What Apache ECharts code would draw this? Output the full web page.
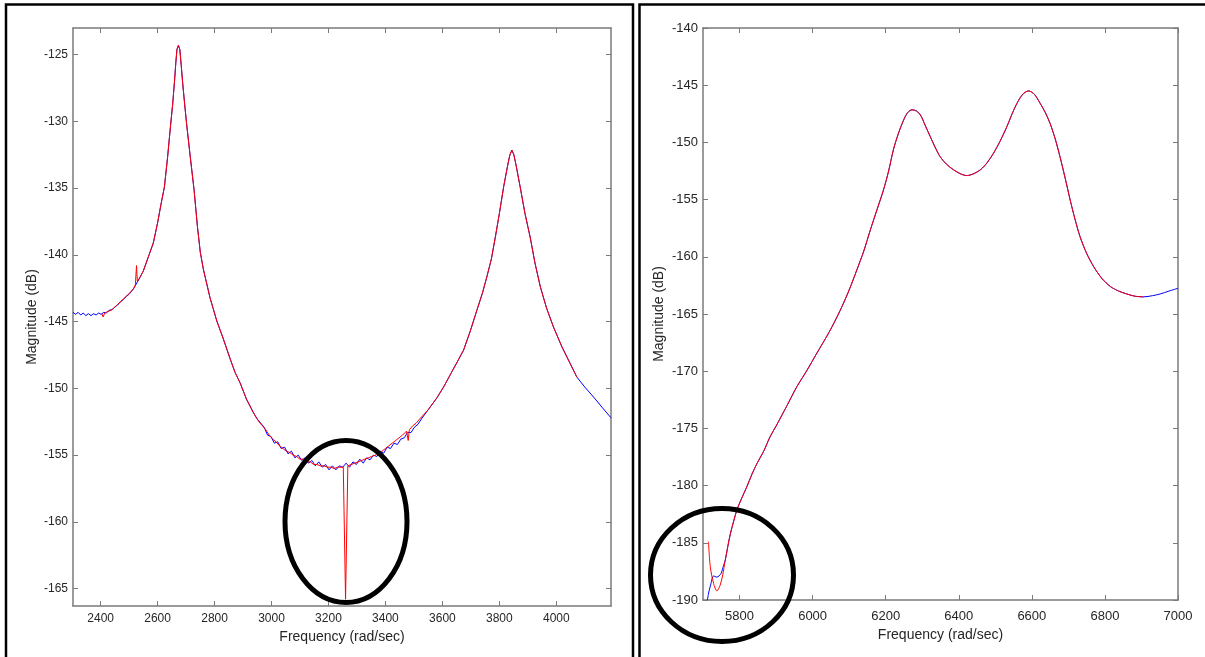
<!DOCTYPE html>
<html>
<head>
<meta charset="utf-8">
<script src="https://cdn.jsdelivr.net/npm/echarts@6/dist/echarts.min.js"></script>
<style>
html, body { margin: 0; padding: 0; background: #fff; }
#chart { width: 1205px; height: 657px; }
</style>
</head>
<body>
<div id="chart"></div>
<script>
// left plot: blue trace (measured)
const leftBlueFreq = [
    2303, 2312, 2321, 2330, 2339, 2348, 2357, 2366, 2375, 2384, 2393, 2402, 2411, 2420, 2430, 2440, 2450, 2460, 2470, 2480,
    2490, 2500, 2515, 2530, 2550, 2570, 2585, 2600, 2612, 2624, 2635, 2646, 2653, 2659, 2664, 2668, 2673, 2678, 2683, 2688,
    2695, 2702, 2715, 2728, 2740, 2750, 2761, 2784, 2808, 2831, 2855, 2872, 2890, 2912, 2936,
    2950, 2962, 2974, 2986, 2998, 3010, 3022, 3034, 3046, 3058, 3070, 3082, 3094, 3106, 3118, 3130, 3142, 3154, 3166, 3178,
    3190, 3202, 3214, 3226, 3238, 3250, 3262, 3274, 3286, 3298, 3310, 3322, 3334, 3346, 3358, 3370, 3382, 3394, 3406, 3418,
    3430, 3442, 3454, 3466, 3478, 3490, 3502, 3514, 3526,
    3550, 3581, 3604, 3627, 3650, 3674, 3698, 3721, 3740, 3756, 3772, 3786, 3800, 3815, 3830, 3837, 3844, 3851, 3858, 3873,
    3890, 3908, 3925, 3944, 3966, 3990, 4020, 4049, 4072, 4100, 4131, 4160, 4192
];
const leftBlueMag = [
    -144.3, -144.45, -144.3, -144.5, -144.35, -144.55, -144.4, -144.55, -144.4, -144.5, -144.35, -144.45, -144.3, -144.35, -144.15, -144.1, -143.9, -143.75, -143.5, -143.35,
    -143.1, -142.95, -142.55, -142.0, -141.2, -140.0, -139.1, -137.6, -136.2, -134.9, -132.7, -130.2, -128.7, -127.1, -125.6, -124.6, -124.3, -124.6, -125.8, -127.1,
    -128.7, -130.2, -132.7, -135.1, -137.9, -139.8, -141.1, -143.2, -144.95, -146.3, -147.8, -148.8, -149.6, -150.8, -151.8,
    -152.3, -152.6, -152.9, -153.5, -153.6, -154.1, -154.0, -154.5, -154.4, -154.9, -154.7, -155.2, -155.0, -155.4, -155.2, -155.6, -155.4, -155.8, -155.5, -155.9,
    -155.7, -156.1, -155.8, -156.1, -155.8, -155.9, -155.6, -155.9, -155.5, -155.7, -155.3, -155.6, -155.2, -155.35, -155.0, -155.1, -154.7, -154.85, -154.4, -154.5,
    -154.1, -154.2, -153.8, -153.7, -153.3, -153.3, -152.9, -152.7, -152.3,
    -151.6, -150.7, -149.9, -149.0, -148.1, -147.15, -145.7, -144.15, -142.9, -141.65, -140.3, -138.65, -136.9, -134.9, -133.2, -132.5, -132.15, -132.5, -133.2, -134.9,
    -136.9, -138.65, -140.6, -142.4, -144.0, -145.4, -146.9, -148.15, -149.15, -149.9, -150.65, -151.4, -152.2
];

// left plot: red trace (model)
const leftRedFreq = [
    2404, 2409, 2414, 2420, 2440, 2460, 2480, 2500, 2515, 2522, 2526, 2529, 2535, 2550, 2570, 2585, 2600, 2612, 2624, 2635,
    2646, 2653, 2659, 2664, 2668, 2673, 2678, 2683, 2688, 2695, 2702, 2715, 2728, 2740, 2750, 2761, 2784, 2808, 2831, 2855,
    2872, 2890, 2912, 2936,
    2944, 2956, 2968, 2980, 2992, 3004, 3016, 3028, 3040, 3052, 3064, 3076, 3088, 3100, 3112, 3124, 3136, 3148, 3160, 3172,
    3184, 3196, 3208, 3220, 3232, 3244, 3252, 3260, 3268, 3280, 3292, 3304, 3316, 3328, 3340, 3352, 3364, 3376, 3388, 3400,
    3412, 3424, 3436, 3448, 3460, 3474, 3480, 3484, 3496, 3508, 3520,
    3550, 3581, 3604, 3627, 3650, 3674, 3698, 3721, 3740, 3756, 3772, 3786, 3800, 3815, 3830, 3837, 3844, 3851, 3858, 3873,
    3890, 3908, 3925, 3944, 3966, 3990, 4020, 4049, 4072
];
const leftRedMag = [
    -144.4, -144.65, -144.35, -144.3, -144.1, -143.7, -143.3, -142.9, -142.55, -142.25, -140.8, -142.0, -141.8, -141.2, -140.0, -139.1, -137.6, -136.2, -134.9, -132.7,
    -130.2, -128.7, -127.1, -125.6, -124.6, -124.3, -124.6, -125.8, -127.1, -128.7, -130.2, -132.7, -135.1, -137.9, -139.8, -141.1, -143.2, -144.95, -146.3, -147.8,
    -148.8, -149.6, -150.8, -151.8,
    -152.1, -152.5, -152.8, -153.1, -153.5, -153.8, -154.0, -154.3, -154.5, -154.7, -154.8, -155.0, -155.1, -155.3, -155.3, -155.5, -155.5, -155.7, -155.7, -155.8,
    -155.8, -155.9, -155.9, -156.0, -155.9, -155.9, -155.9, -165.8, -155.8, -155.7, -155.6, -155.5, -155.4, -155.3, -155.2, -155.1, -155.0, -154.8, -154.7, -154.5,
    -154.3, -154.1, -153.9, -153.7, -153.5, -153.2, -153.9, -153.1, -152.8, -152.6, -152.3,
    -151.6, -150.7, -149.9, -149.0, -148.1, -147.15, -145.7, -144.15, -142.9, -141.65, -140.3, -138.65, -136.9, -134.9, -133.2, -132.5, -132.15, -132.5, -133.2, -134.9,
    -136.9, -138.65, -140.6, -142.4, -144.0, -145.4, -146.9, -148.15, -149.15
];

// right plot: blue trace (measured)
const rightBlueFreq = [
    5712, 5716, 5720, 5729, 5738, 5749, 5756, 5761, 5768, 5775, 5784, 5793, 5806, 5820, 5834, 5848, 5866, 5884, 5900, 5915,
    5930, 5957, 5985, 6012, 6045, 6076, 6100, 6121, 6140, 6158, 6176, 6194, 6208, 6221, 6235, 6249, 6260, 6272, 6284, 6295,
    6308, 6322, 6335, 6349, 6366, 6386, 6405, 6422, 6440, 6459, 6477, 6495, 6513, 6532, 6546, 6559, 6575, 6591, 6607, 6623,
    6637, 6650, 6664, 6677, 6691, 6705, 6718, 6732, 6750, 6769, 6792, 6815, 6838, 6860, 6883, 6906, 6930, 6951, 6975, 7000
];
const rightBlueMag = [
    -190.0, -189.3, -188.8, -187.9, -188.0, -187.7, -187.0, -186.5, -185.3, -184.2, -183.1, -182.1, -181.1, -180.1, -179.0, -178.05, -177.0, -175.7, -174.8, -173.9,
    -173.0, -171.35, -169.9, -168.4, -166.6, -164.65, -162.9, -161.15, -159.5, -157.65, -155.9, -154.15, -152.5, -150.65, -149.2, -148.05, -147.4, -147.15, -147.25, -147.6,
    -148.5, -149.5, -150.4, -151.25, -151.9, -152.4, -152.75, -152.9, -152.75, -152.4, -151.8, -150.95, -149.9, -148.6, -147.5, -146.6, -145.8, -145.5, -145.8, -146.6,
    -147.4, -148.35, -149.7, -151.25, -153.1, -155.05, -156.7, -158.25, -159.7, -160.85, -161.9, -162.6, -163.0, -163.25, -163.45, -163.5, -163.4, -163.25, -163.0, -162.75
];

// right plot: red trace (model)
const rightRedFreq = [
    5715, 5720, 5729, 5738, 5747, 5754, 5761, 5768, 5775, 5784, 5793, 5806, 5820, 5834, 5848, 5866, 5884, 5900, 5915,
    5930, 5957, 5985, 6012, 6045, 6076, 6100, 6121, 6140, 6158, 6176, 6194, 6208, 6221, 6235, 6249, 6260, 6272, 6284, 6295,
    6308, 6322, 6335, 6349, 6366, 6386, 6405, 6422, 6440, 6459, 6477, 6495, 6513, 6532, 6546, 6559, 6575, 6591, 6607, 6623,
    6637, 6650, 6664, 6677, 6691, 6705, 6718, 6732, 6750, 6769, 6792, 6815, 6838, 6860, 6883, 6906
];
const rightRedMag = [
    -184.9, -187.1, -188.55, -189.2, -188.7, -187.8, -186.5, -185.3, -184.2, -183.1, -182.1, -181.1, -180.1, -179.0, -178.05, -177.0, -175.7, -174.8, -173.9,
    -173.0, -171.35, -169.9, -168.4, -166.6, -164.65, -162.9, -161.15, -159.5, -157.65, -155.9, -154.15, -152.5, -150.65, -149.2, -148.05, -147.4, -147.15, -147.25, -147.6,
    -148.5, -149.5, -150.4, -151.25, -151.9, -152.4, -152.75, -152.9, -152.75, -152.4, -151.8, -150.95, -149.9, -148.6, -147.5, -146.6, -145.8, -145.5, -145.8, -146.6,
    -147.4, -148.35, -149.7, -151.25, -153.1, -155.05, -156.7, -158.25, -159.7, -160.85, -161.9, -162.6, -163.0, -163.25, -163.45, -163.5
];

// tick labels
const leftXTicks = [2400, 2600, 2800, 3000, 3200, 3400, 3600, 3800, 4000];
const leftYTicks = [-165, -160, -155, -150, -145, -140, -135, -130, -125];
const rightXTicks = [5800, 6000, 6200, 6400, 6600, 6800, 7000];
const rightYTicks = [-190, -185, -180, -175, -170, -165, -160, -155, -150, -145, -140];

const FONT = "'Liberation Sans', Arial, sans-serif";
const AXIS_COLOR = '#7a7a7a';
const TEXT_COLOR = '#262626';

function zip(freq, mag) {
    return freq.map((f, i) => [f, mag[i]]);
}

function xAxis(gridIndex, min, max, ticks, position, fontSize, labelMargin) {
    const main = position === 'bottom';
    return {
        type: 'value',
        gridIndex: gridIndex,
        position: position,
        min: min,
        max: max,
        name: main ? 'Frequency (rad/sec)' : '',
        nameLocation: 'middle',
        nameGap: gridIndex === 0 ? 22 : 25,
        nameTextStyle: { color: TEXT_COLOR, fontSize: 14, fontFamily: FONT },
        axisLine: { show: true, onZero: false, lineStyle: { color: AXIS_COLOR, width: 1.5 } },
        axisTick: { show: true, inside: true, length: 5, customValues: ticks, lineStyle: { color: AXIS_COLOR, width: 1 } },
        axisLabel: {
            show: main,
            customValues: ticks,
            formatter: v => String(v),
            margin: labelMargin,
            color: TEXT_COLOR,
            fontSize: fontSize,
            fontFamily: FONT
        },
        splitLine: { show: false }
    };
}

function yAxis(gridIndex, min, max, ticks, position, fontSize, nameGap) {
    const main = position === 'left';
    return {
        type: 'value',
        gridIndex: gridIndex,
        position: position,
        min: min,
        max: max,
        name: main ? 'Magnitude (dB)' : '',
        nameLocation: 'middle',
        nameGap: nameGap,
        nameTextStyle: { color: TEXT_COLOR, fontSize: 14, fontFamily: FONT },
        axisLine: { show: true, onZero: false, lineStyle: { color: AXIS_COLOR, width: 1.5 } },
        axisTick: { show: true, inside: true, length: 5, customValues: ticks, lineStyle: { color: AXIS_COLOR, width: 1 } },
        axisLabel: {
            show: main,
            customValues: ticks,
            formatter: v => String(v),
            margin: 5,
            color: TEXT_COLOR,
            fontSize: fontSize,
            fontFamily: FONT
        },
        splitLine: { show: false }
    };
}

function trace(data, color, xIndex, yIndex, z, smooth) {
    return {
        type: 'line',
        data: data,
        xAxisIndex: xIndex,
        yAxisIndex: yIndex,
        showSymbol: false,
        symbol: 'none',
        smooth: smooth,
        z: z,
        lineStyle: { color: color, width: 1 },
        emphasis: { disabled: true }
    };
}

const chart = echarts.init(document.getElementById('chart'), null, { renderer: 'canvas' });

chart.setOption({
    animation: false,
    backgroundColor: '#ffffff',
    grid: [
        { left: 73, top: 28, width: 538, height: 578 },
        { left: 703, top: 28, width: 475, height: 572 }
    ],
    xAxis: [
        xAxis(0, 2303, 4192, leftXTicks, 'bottom', 12, 7),
        xAxis(0, 2303, 4192, leftXTicks, 'top', 12, 7),
        xAxis(1, 5700, 7000, rightXTicks, 'bottom', 13, 10),
        xAxis(1, 5700, 7000, rightXTicks, 'top', 13, 10)
    ],
    yAxis: [
        yAxis(0, -166.3, -123, leftYTicks, 'left', 12, 34),
        yAxis(0, -166.3, -123, leftYTicks, 'right', 12, 34),
        yAxis(1, -190, -140, rightYTicks, 'left', 13, 37),
        yAxis(1, -190, -140, rightYTicks, 'right', 13, 37)
    ],
    series: [
        trace(zip(leftBlueFreq, leftBlueMag), '#0000ff', 0, 0, 2, false),
        trace(zip(leftRedFreq, leftRedMag), '#ff0000', 0, 0, 3, false),
        trace(zip(rightBlueFreq, rightBlueMag), '#0000ff', 2, 2, 2, 0.3),
        trace(zip(rightRedFreq, rightRedMag), '#ff0000', 2, 2, 3, 0.3)
    ],
    graphic: [
        // panel frames
        { type: 'rect', shape: { x: 6, y: 4.5, width: 627, height: 700 }, style: { fill: 'none', stroke: '#000', lineWidth: 2.5 }, z: 10 },
        { type: 'rect', shape: { x: 639.5, y: 4.5, width: 600, height: 700 }, style: { fill: 'none', stroke: '#000', lineWidth: 2.5 }, z: 10 },
        // highlight circles
        { type: 'ellipse', shape: { cx: 346, cy: 521.5, rx: 61, ry: 81 }, style: { fill: 'none', stroke: '#000', lineWidth: 5 }, z: 10 },
        { type: 'ellipse', shape: { cx: 722, cy: 575, rx: 71.5, ry: 66.5 }, style: { fill: 'none', stroke: '#000', lineWidth: 5 }, z: 10 }
    ]
});
</script>
</body>
</html>
